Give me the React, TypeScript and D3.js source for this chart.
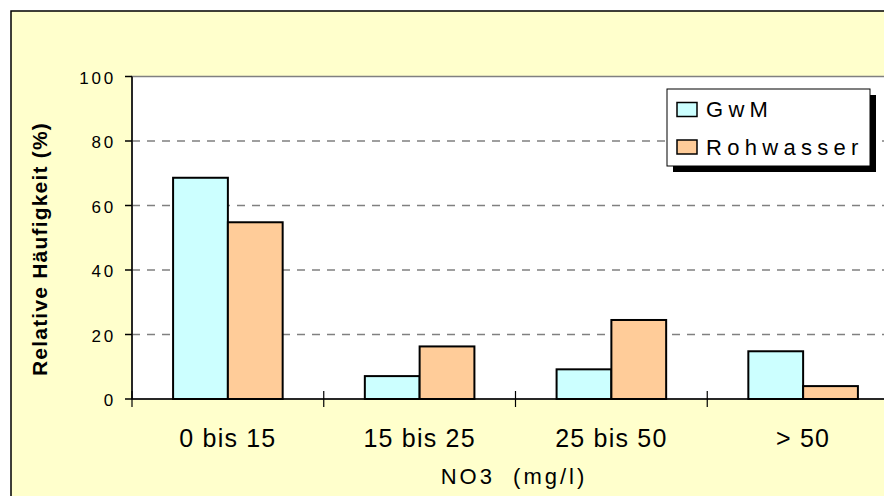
import React from "react";
import * as d3 from "d3";

const categories = ["0 bis 15", "15 bis 25", "25 bis 50", "> 50"];
const seriesNames = ["GwM", "Rohwasser"];
const gwmValues = [68.6, 7.1, 9.2, 14.8];
const rohwasserValues = [54.8, 16.3, 24.5, 4.0];
const yTicks = [0, 20, 40, 60, 80, 100];
const seriesColors = ["#CCFFFF", "#FFCC99"];

const FONT = "'Liberation Sans', Arial, Helvetica, sans-serif";

export default function App() {
  const W = 884;
  const H = 496;
  const left = 132;
  const right = 899;
  const top = 76.5;
  const bottom = 399;

  const x = d3.scaleBand<string>().domain(categories).range([left, right]).paddingInner(0).paddingOuter(0);
  const xs = d3
    .scaleBand<string>()
    .domain(seriesNames)
    .range([0, x.bandwidth()])
    .paddingInner(0)
    .paddingOuter(0.75);
  const y = d3.scaleLinear().domain([0, 100]).range([bottom, top]);

  const data = [gwmValues, rohwasserValues];

  const boundaries = categories.map((c) => x(c)!);

  return (
    <svg
      width={W}
      height={H}
      style={{ position: "absolute", left: 0, top: 0, display: "block" }}
      fontFamily={FONT}
    >
      {/* chart area */}
      <rect x={11} y={11} width={920} height={540} fill="#FFFFCC" stroke="#000" strokeWidth={1.5} />
      {/* plot area */}
      <rect x={left} y={top} width={right - left} height={bottom - top} fill="#fff" stroke="#808080" strokeWidth={1.5} />
      {/* gridlines */}
      {yTicks
        .filter((t) => t > 0 && t < 100)
        .map((t) => (
          <line
            key={"g" + t}
            x1={left}
            x2={right}
            y1={y(t)}
            y2={y(t)}
            stroke="#808080"
            strokeWidth={1.5}
            strokeDasharray="8,7"
          />
        ))}
      {/* bars */}
      {seriesNames.map((s, si) =>
        categories.map((c, ci) => {
          const v = data[si][ci];
          return (
            <rect
              key={s + c}
              x={x(c)! + xs(s)!}
              y={y(v)}
              width={xs.bandwidth()}
              height={y(0) - y(v)}
              fill={seriesColors[si]}
              stroke="#000"
              strokeWidth={2}
            />
          );
        })
      )}
      {/* y axis */}
      <line x1={left} x2={left} y1={top} y2={bottom} stroke="#000" strokeWidth={1.5} />
      {yTicks.map((t) => (
        <g key={"t" + t}>
          <line x1={left - 7} x2={left} y1={y(t)} y2={y(t)} stroke="#000" strokeWidth={1.5} />
          <text
            x={116}
            y={y(t) + 7.3}
            textAnchor="end"
            fontSize={17}
            letterSpacing={2.8}
            fill="#000"
          >
            {t}
          </text>
        </g>
      ))}
      {/* x axis */}
      <line x1={left} x2={right} y1={bottom} y2={bottom} stroke="#000" strokeWidth={1.5} />
      {boundaries.map((b, i) => (
        <line key={"xb" + i} x1={b} x2={b} y1={bottom - 8} y2={bottom + 8} stroke="#000" strokeWidth={1.2} />
      ))}
      {categories.map((c) => (
        <text
          key={"xl" + c}
          x={x(c)! + x.bandwidth() / 2}
          y={446.5}
          textAnchor="middle"
          fontSize={25}
          letterSpacing={1.2}
          fill="#000"
        >
          {c}
        </text>
      ))}
      {/* axis titles */}
      <text
        x={514}
        y={484}
        textAnchor="middle"
        fontSize={22}
        letterSpacing={3}
        fill="#000"
        style={{ whiteSpace: "pre" }}
      >
        {"NO3  (mg/l)"}
      </text>
      <text
        transform="translate(47,249) rotate(-90)"
        textAnchor="middle"
        fontSize={21}
        fontWeight="bold"
        letterSpacing={1.2}
        fill="#000"
      >
        Relative Häufigkeit (%)
      </text>
      {/* legend */}
      <rect x={673} y={95} width={203} height={77} fill="#000" />
      <rect x={667} y={89} width={203} height={77} fill="#fff" stroke="#000" strokeWidth={1} />
      {seriesNames.map((s, i) => (
        <g key={"lg" + s}>
          <rect
            x={677}
            y={102.5 + i * 37.5}
            width={20}
            height={14}
            fill={seriesColors[i]}
            stroke="#000"
            strokeWidth={1.5}
          />
          <text x={706} y={117 + i * 37.5} fontSize={22} letterSpacing={5.3} fill="#000">
            {s}
          </text>
        </g>
      ))}
    </svg>
  );
}
